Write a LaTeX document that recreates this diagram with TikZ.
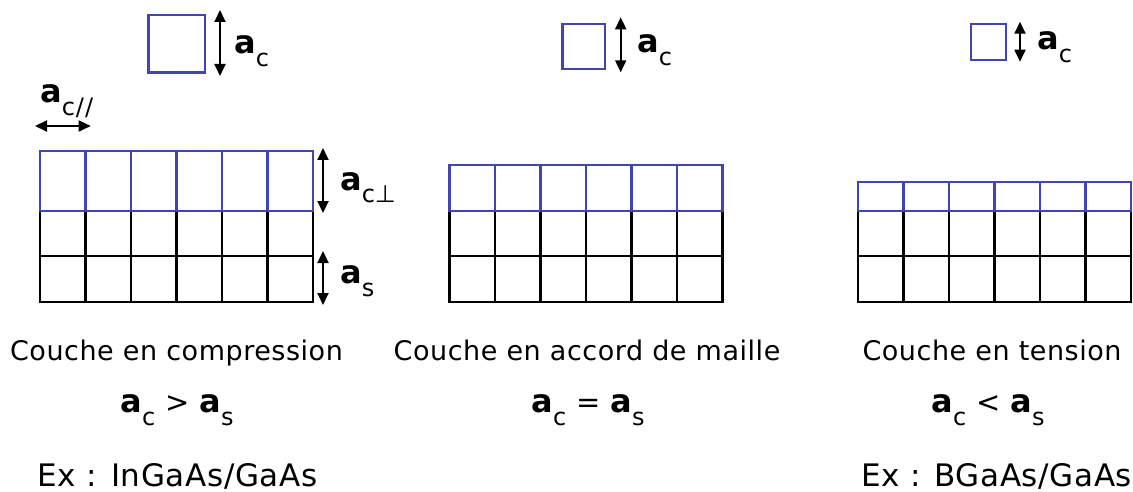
\documentclass[tikz,border=0pt]{standalone}
\usepackage{fontspec}
\setmainfont{DejaVu Sans}
\newfontfamily\capfont[LetterSpace=2]{DejaVu Sans}
\usetikzlibrary{arrows.meta}

\definecolor{layerblue}{RGB}{66,68,176}

% lattice parameter a with a lowered index
\newcommand{\lowidx}[1]{\raisebox{-13pt}{\fontsize{24}{24}\selectfont\mdseries #1}}
\newcommand{\latt}[1]{a\lowidx{#1}}
\newcommand{\relsym}[1]{{\mdseries\fontsize{29}{29}\selectfont\hspace{10pt}#1\hspace{10pt}}}

\begin{document}
\begin{tikzpicture}[x=1pt,y=-1pt,
        cell/.style={line width=2.1pt},
        layer/.style={cell, draw=layerblue},
        freecell/.style={draw=layerblue, line width=2.4pt},
        dim/.style={{Triangle[length=12pt,width=11pt]}-{Triangle[length=12pt,width=11pt]}, line width=1.8pt},
        lab/.style={anchor=base west, inner sep=0pt, font=\fontsize{32}{32}\selectfont\bfseries},
        rel/.style={anchor=base, inner sep=0pt, font=\fontsize{32}{32}\selectfont\bfseries},
        caption/.style={anchor=base, inner sep=0pt, font=\capfont\fontsize{27}{27}\selectfont},
        ex/.style={anchor=base, inner sep=0pt, font=\capfont\fontsize{31}{31}\selectfont}]
        \useasboundingbox (0,0) rectangle (1133,492);

        % substrate (black) and epitaxial layer (blue) for the three cases
        \foreach \x/\t in {40/150.7, 449.5/165, 858/181.7} {
            \draw[cell] (\x,210.7) rectangle (\x+273,301.7);
            \draw[cell] (\x,256.2) -- (\x+273,256.2);
            \foreach \i in {1,...,5}
                \draw[cell] (\x+\i*45.5,210.7) -- (\x+\i*45.5,301.7);
            \draw[layer] (\x,\t) rectangle (\x+273,210.7);
            \foreach \i in {1,...,5}
                \draw[layer] (\x+\i*45.5,\t) -- (\x+\i*45.5,210.7);
        }

        % unstrained cells
        \draw[freecell] (148.3,15) rectangle (205,72.7);
        \draw[freecell] (562.3,24.3) rectangle (605,69);
        \draw[freecell] (970.7,24.3) rectangle (1005.7,60);

        % dimension arrows
        \coordinate (c1t) at (220,10);      \coordinate (c1b) at (220,76);
        \coordinate (c2t) at (620.7,17.3);  \coordinate (c2b) at (620.7,72.3);
        \coordinate (c3t) at (1020,21.7);   \coordinate (c3b) at (1020,61.7);
        \coordinate (parl) at (35,126);     \coordinate (parr) at (90.7,126);
        \coordinate (perpt) at (323,148);   \coordinate (perpb) at (323,213);
        \coordinate (subt) at (323,251);    \coordinate (subb) at (323,305);
        \draw[dim] (c1t) -- (c1b);
        \draw[dim] (c2t) -- (c2b);
        \draw[dim] (c3t) -- (c3b);
        \draw[dim] (parl) -- (parr);
        \draw[dim] (perpt) -- (perpb);
        \draw[dim] (subt) -- (subb);

        \node[lab] (ac1) at (234,54) {\latt{c}};
        \node[lab] (ac2) at (637,53) {\latt{c}};
        \node[lab] (ac3) at (1037,50) {\latt{c}};
        \node[lab] (acpar) at (40,103) {\latt{c\kern1pt/\kern1pt/}};
        \node[lab] (acperp) at (340,190) {\latt{c⊥}};
        \node[lab] (as) at (340,283) {\latt{s}};

        \node[caption] (cap1) at (176.5,360) {Couche en compression};
        \node[caption] (cap2) at (587,360) {Couche en accord de maille};
        \node[caption] (cap3) at (992,360) {Couche en tension};

        \node[rel] (rel1) at (177,412) {\latt{c}\relsym{>}\latt{s}};
        \node[rel] (rel2) at (588,412) {\latt{c}\relsym{=}\latt{s}};
        \node[rel] (rel3) at (988,412) {\latt{c}\relsym{<}\latt{s}};

        \node[ex] (ex1) at (177.5,486.7) {Ex : InGaAs/GaAs};
        \node[ex] (ex3) at (996.5,486.7) {Ex : BGaAs/GaAs};
\end{tikzpicture}
\end{document}
